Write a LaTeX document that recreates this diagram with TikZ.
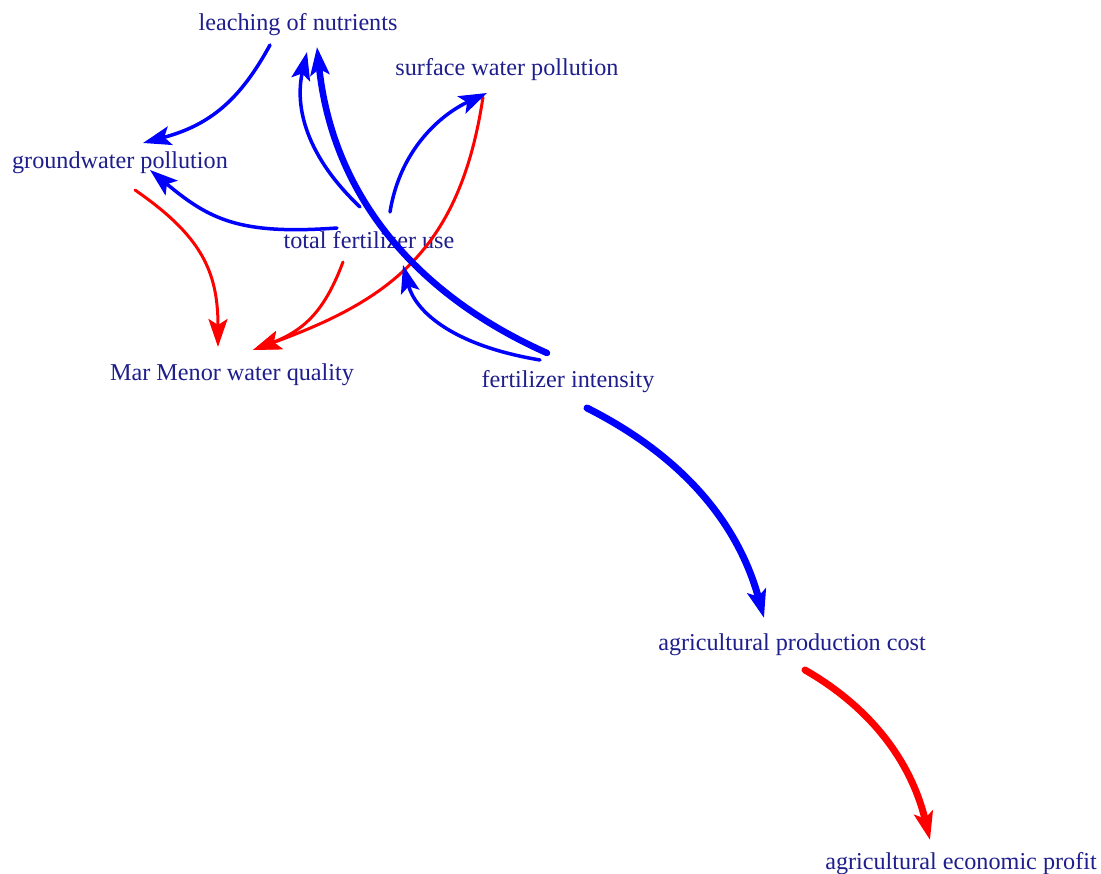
\documentclass[tikz,border=0pt]{standalone}
\usepackage{fontspec}
\setmainfont{Liberation Serif}
\usetikzlibrary{arrows.meta}
\definecolor{labelnavy}{RGB}{30,30,140}
\begin{document}
\begin{tikzpicture}[x=1pt,y=-1pt,
  lbl/.style={anchor=base,inner sep=0pt,text=labelnavy,font=\fontsize{24.2}{29}\selectfont},
  link/.style={line cap=round,-{Stealth[length=28pt,width=19pt,inset=6pt]}},
  pos/.style={link,draw=blue,line width=#1},
  neg/.style={link,draw=red,line width=#1}]
\useasboundingbox (0,0) rectangle (1101,874);
\fill[white] (0,0) rectangle (1101,874);

% variables
\node[lbl] (lea) at (298,31)  {leaching of nutrients};
\node[lbl] (sur) at (507,76)  {surface water pollution};
\node[lbl] (gro) at (120,169) {groundwater pollution};
\node[lbl] (tot) at (369,249) {total fertilizer use};
\node[lbl] (mar) at (232,381) {Mar Menor water quality};
\node[lbl] (fin) at (568,388) {fertilizer intensity};
\node[lbl] (apc) at (792,650) {agricultural production cost};
\node[lbl] (aep) at (961,869) {agricultural economic profit};

% negative links
\draw[neg=3pt] ([shift={(-24,21)}]sur.base) .. controls (460,250) and (390,300) .. ([shift={(21,-31)}]mar.base);
\draw[neg=3pt] ([shift={(-26,13)}]tot.base) .. controls (325,310) and (305,330) .. ([shift={(21,-31)}]mar.base);
\draw[neg=3pt] ([shift={(15,21)}]gro.base) .. controls (200,235) and (218,270) .. ([shift={(-14,-34)}]mar.base);
\draw[neg=7pt] ([shift={(13,20)}]apc.base) .. controls (878,712) and (913,769) .. ([shift={(-31,-29)}]aep.base);

% positive links
\draw[pos=3.5pt] ([shift={(-28,14)}]lea.base) .. controls (240,100) and (210,125) .. ([shift={(23,-26)}]gro.base);
\draw[pos=3.5pt] ([shift={(-9,-42)}]tot.base) .. controls (300,150) and (296,100) .. ([shift={(9,21)}]lea.base);
\draw[pos=3.5pt] ([shift={(21,-37)}]tot.base) .. controls (400,150) and (440,115) .. ([shift={(-20,17)}]sur.base);
\draw[pos=3.5pt] ([shift={(-32,-21)}]tot.base) .. controls (240,235) and (210,220) .. ([shift={(30,1)}]gro.base);
\draw[pos=3.5pt] ([shift={(-28,-28)}]fin.base) .. controls (450,345) and (415,310) .. ([shift={(34,16)}]tot.base);
\draw[pos=6.5pt] ([shift={(-21,-35)}]fin.base) .. controls (410,292) and (332,190) .. ([shift={(19,16)}]lea.base);
\draw[pos=7pt] ([shift={(19,20)}]fin.base) .. controls (690,460) and (740,530) .. ([shift={(-28,-32)}]apc.base);
\end{tikzpicture}
\end{document}
